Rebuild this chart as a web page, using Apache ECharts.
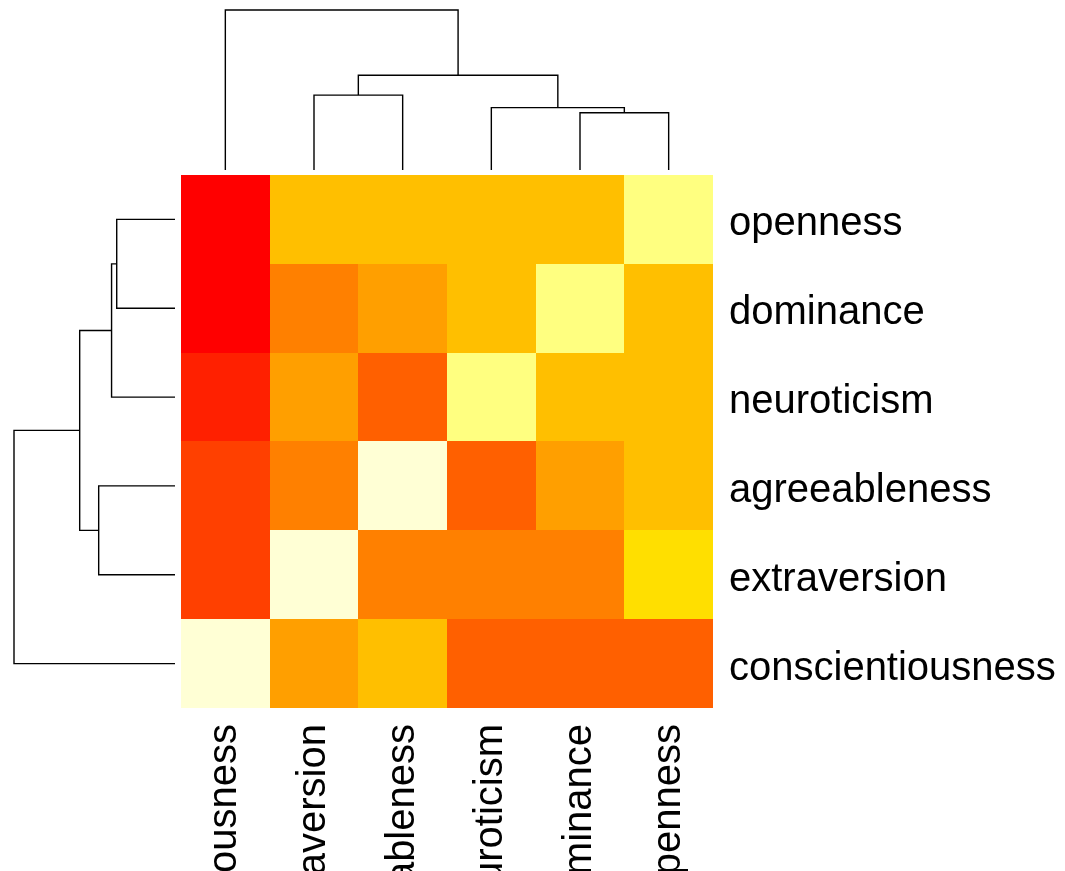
<!DOCTYPE html>
<html>
<head>
<meta charset="utf-8">
<title>Personality traits heatmap</title>
<script src="https://cdn.jsdelivr.net/npm/echarts@6/dist/echarts.min.js"></script>
<style>
  html, body { margin: 0; padding: 0; background: #ffffff; }
  #chart { width: 1065px; height: 871px; }
</style>
</head>
<body>
<div id="chart"></div>
<script>
// Column order (left to right) and row order (top to bottom) after clustering
const columns = ['conscientiousness', 'extraversion', 'agreeableness', 'neuroticism', 'dominance', 'openness'];
const rows = ['openness', 'dominance', 'neuroticism', 'agreeableness', 'extraversion', 'conscientiousness'];

// heat.colors(12) palette, index = colour level
const heatColors = ['#FF0000', '#FF2000', '#FF4000', '#FF6000', '#FF8000', '#FF9F00',
                    '#FFBF00', '#FFDF00', '#FFFF00', '#FFFF2A', '#FFFF80', '#FFFFD5'];

// Row-scaled colour levels, one array per row, in column order
const levelsOpenness          = [0, 6, 6, 6, 6, 10];
const levelsDominance         = [0, 4, 5, 6, 10, 6];
const levelsNeuroticism       = [1, 5, 3, 10, 6, 6];
const levelsAgreeableness     = [2, 4, 11, 3, 5, 6];
const levelsExtraversion      = [2, 11, 4, 4, 4, 7];
const levelsConscientiousness = [11, 5, 6, 3, 3, 3];

// Dendrograms in hclust style: negative = leaf (1-based position), positive = earlier merge
const colMerge  = [[-5, -6], [-4, 1], [-2, -3], [3, 2], [-1, 4]];
const colHeight = [1.79, 1.95, 2.34, 2.96, 5.0];
const rowMerge  = [[-1, -2], [1, -3], [-4, -5], [2, 3], [4, -6]];
const rowHeight = [1.81, 1.97, 2.37, 2.96, 5.0];

const rowLevels = [levelsOpenness, levelsDominance, levelsNeuroticism,
                   levelsAgreeableness, levelsExtraversion, levelsConscientiousness];

const heatData = [];
rowLevels.forEach(function (arr, r) {
  arr.forEach(function (v, c) { heatData.push([c, r, v]); });
});

// Cells snapped to whole pixels so neighbouring tiles share edges without seams
function renderCell(params, api) {
  const center = api.coord([api.value(0), api.value(1)]);
  const size = api.size([1, 1]);
  const x0 = Math.round(center[0] - size[0] / 2);
  const x1 = Math.round(center[0] + size[0] / 2);
  const y0 = Math.round(center[1] - size[1] / 2);
  const y1 = Math.round(center[1] + size[1] / 2);
  return {
    type: 'rect',
    shape: { x: x0, y: y0, width: x1 - x0, height: y1 - y0 },
    style: { fill: heatColors[api.value(2)] }
  };
}

// Each merge becomes one bracket: [posA, heightA, posB, heightB, mergeHeight]
function dendroBrackets(merge, height) {
  const nodes = [];
  const out = [];
  function node(ref) {
    return ref < 0 ? { pos: -ref - 0.5, h: 0 } : nodes[ref - 1];
  }
  merge.forEach(function (m, i) {
    const a = node(m[0]);
    const b = node(m[1]);
    out.push([a.pos, a.h, b.pos, b.h, height[i]]);
    nodes.push({ pos: (a.pos + b.pos) / 2, h: height[i] });
  });
  return out;
}

function bracketRenderer(vertical) {
  return function (params, api) {
    const pA = api.value(0), hA = api.value(1), pB = api.value(2), hB = api.value(3), h = api.value(4);
    const pt = vertical
      ? function (p, hh) { return api.coord([p, hh]); }
      : function (p, hh) { return api.coord([hh, p]); };
    return {
      type: 'polyline',
      shape: { points: [pt(pA, hA), pt(pA, h), pt(pB, h), pt(pB, hB)] },
      style: { stroke: '#000000', lineWidth: 1.4, fill: null }
    };
  };
}

const labelFont = '"Liberation Sans", Arial, Helvetica, sans-serif';

const chart = echarts.init(document.getElementById('chart'), null, { renderer: 'canvas' });
chart.setOption({
  animation: false,
  backgroundColor: '#ffffff',
  grid: [
    // heatmap
    { left: 181, top: 175, width: 532, height: 533, containLabel: false, outerBoundsMode: 'none' },
    // column dendrogram
    { left: 181, top: 10, width: 532, height: 160, containLabel: false, outerBoundsMode: 'none' },
    // row dendrogram
    { left: 14, top: 175, width: 161, height: 533, containLabel: false, outerBoundsMode: 'none' }
  ],
  xAxis: [
    {
      gridIndex: 0, type: 'category', data: columns, position: 'bottom',
      axisLine: { show: false }, axisTick: { show: false }, splitLine: { show: false },
      axisLabel: {
        interval: 0, rotate: 90, margin: 16, color: '#000000',
        fontSize: 40, fontFamily: labelFont
      }
    },
    { gridIndex: 1, type: 'value', min: 0, max: 6, show: false },
    { gridIndex: 2, type: 'value', min: 0, max: 5, inverse: true, show: false }
  ],
  yAxis: [
    {
      gridIndex: 0, type: 'category', data: rows, position: 'right', inverse: true,
      axisLine: { show: false }, axisTick: { show: false }, splitLine: { show: false },
      axisLabel: {
        interval: 0, margin: 16, color: '#000000',
        formatter: '{t|{value}}',
        rich: {
          t: { fontSize: 40, fontFamily: labelFont, color: '#000000', padding: [10, 0, 0, 0] }
        }
      }
    },
    { gridIndex: 1, type: 'value', min: 0, max: 5, show: false },
    { gridIndex: 2, type: 'value', min: 0, max: 6, inverse: true, show: false }
  ],
  series: [
    {
      type: 'custom', xAxisIndex: 0, yAxisIndex: 0, data: heatData,
      renderItem: renderCell
    },
    {
      type: 'custom', xAxisIndex: 1, yAxisIndex: 1, clip: false,
      data: dendroBrackets(colMerge, colHeight),
      renderItem: bracketRenderer(true)
    },
    {
      type: 'custom', xAxisIndex: 2, yAxisIndex: 2, clip: false,
      data: dendroBrackets(rowMerge, rowHeight),
      renderItem: bracketRenderer(false)
    }
  ]
});
</script>
</body>
</html>
